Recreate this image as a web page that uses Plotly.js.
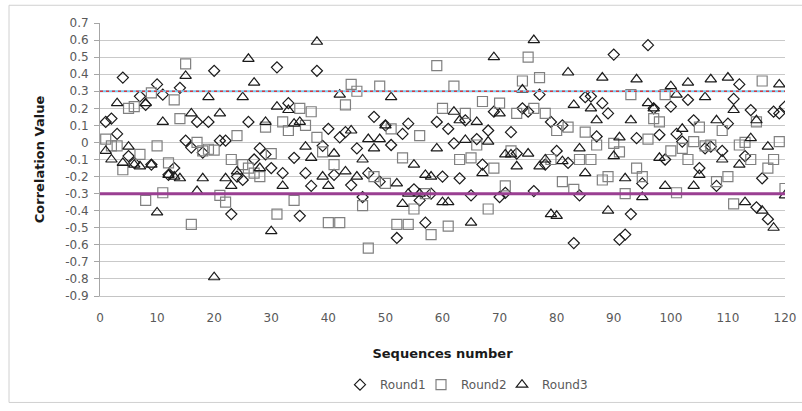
<!DOCTYPE html>
<html><head><meta charset="utf-8">
<script src="https://cdn.plot.ly/plotly-3.0.1.min.js"></script>
<style>html,body{margin:0;padding:0;background:#fff;}#chart{width:802px;height:411px;}</style>
</head><body><div id="chart"></div>
<script>
const sequenceNumber = [1,2,3,4,5,6,7,8,9,10,11,12,13,14,15,16,17,18,19,20,21,22,23,24,25,26,27,28,29,30,31,32,33,34,35,36,37,38,39,40,41,42,43,44,45,46,47,48,49,50,51,52,53,54,55,56,57,58,59,60,61,62,63,64,65,66,67,68,69,70,71,72,73,74,75,76,77,78,79,80,81,82,83,84,85,86,87,88,89,90,91,92,93,94,95,96,97,98,99,100,101,102,103,104,105,106,107,108,109,110,111,112,113,114,115,116,117,118,119,120];

const round1 = [0.12,0.14,0.05,0.38,-0.08,-0.12,0.27,0.22,-0.13,0.34,
0.28,-0.19,-0.15,0.32,0.01,-0.03,0.12,-0.06,0.12,0.42,
0.01,0.01,-0.42,-0.2,-0.22,0.12,-0.10,-0.035,-0.07,-0.15,
0.44,-0.18,0.23,-0.09,-0.43,-0.18,-0.255,0.42,-0.02,0.08,
-0.19,0.03,0.06,-0.25,-0.035,-0.32,-0.18,0.15,-0.23,0.1,
-0.015,-0.56,0.05,0.11,-0.275,-0.34,-0.47,-0.30,0.12,-0.2,
0.08,-0.005,-0.21,0.13,-0.31,0.02,-0.13,0.07,0.18,-0.32,
-0.295,0.06,-0.065,0.2,0.18,-0.285,0.28,-0.13,0.12,-0.05,
0.1,-0.12,-0.59,-0.31,0.265,0.27,0.035,0.23,0.17,0.515,
-0.57,-0.54,-0.42,0.025,-0.24,0.57,0.2,0.045,-0.1,0.21,
0.05,0.005,0.25,0.13,-0.15,-0.035,-0.025,-0.255,-0.05,0.11,
0.255,0.34,-0.08,0.19,-0.38,-0.21,-0.45,0.18,0.17,0.21];

const round2 = [0.02,-0.02,-0.02,-0.16,0.2,0.21,-0.07,-0.34,0.29,-0.02,
-0.295,-0.12,0.25,0.14,0.46,-0.48,0.0,-0.05,-0.04,-0.045,
-0.31,-0.35,-0.1,0.04,-0.13,-0.15,-0.18,-0.2,0.09,-0.065,
-0.42,0.12,0.07,-0.34,0.2,0.1,0.18,0.03,-0.055,-0.47,
-0.13,-0.47,0.22,0.34,0.3,-0.37,-0.62,-0.2,0.33,-0.24,
0.08,-0.48,-0.09,-0.48,-0.39,0.04,-0.3,-0.54,0.45,0.2,
-0.49,0.33,-0.1,0.17,-0.09,-0.015,0.24,-0.39,-0.15,0.23,
-0.255,-0.05,0.17,0.36,0.5,0.2,0.38,0.17,-0.1,0.07,
-0.23,0.09,-0.275,-0.1,0.06,-0.1,-0.015,-0.22,-0.2,-0.005,
-0.055,-0.3,0.28,-0.15,-0.2,0.02,0.14,0.12,0.28,-0.05,
-0.295,-0.035,-0.1,0.005,0.09,-0.02,-0.015,-0.23,0.07,-0.2,
-0.36,-0.015,0.0,-0.1,0.12,0.36,-0.15,-0.1,0.005,-0.27];

const round3 = [-0.05,-0.1,0.23,-0.12,-0.025,-0.13,-0.14,0.23,-0.13,-0.41,
0.12,-0.19,-0.2,-0.21,0.39,0.17,-0.285,-0.21,0.265,-0.79,
0.17,-0.21,-0.255,-0.17,0.265,0.49,0.35,-0.15,0.12,-0.52,
0.21,-0.255,0.19,0.11,0.12,-0.025,-0.09,0.59,-0.2,-0.255,
-0.065,0.28,-0.17,0.07,-0.2,-0.1,0.02,-0.035,0.02,0.1,
0.265,-0.24,-0.36,-0.3,-0.13,-0.3,-0.19,-0.2,-0.035,-0.35,
-0.35,0.18,0.13,0.015,-0.47,0.12,-0.18,0.005,0.5,0.17,
-0.07,-0.07,-0.14,0.31,-0.065,0.6,-0.14,-0.1,-0.42,-0.43,
-0.11,0.41,0.22,-0.035,-0.18,0.2,0.13,0.38,-0.4,-0.08,
0.03,-0.21,0.13,0.37,-0.32,0.23,0.2,-0.09,-0.255,0.33,
0.28,0.08,0.35,-0.255,-0.19,0.265,0.37,0.13,-0.1,0.38,
0.19,-0.13,-0.35,0.025,0.13,-0.4,-0.025,-0.5,0.34,-0.31];

const seriesNames = ['Round1','Round2','Round3'];
const xTickVals = [0,10,20,30,40,50,60,70,80,90,100,110,120];
const yTickVals = [0.7,0.6,0.5,0.4,0.3,0.2,0.1,0,-0.1,-0.2,-0.3,-0.4,-0.5,-0.6,-0.7,-0.8,-0.9];
const yTickText = ['0.7','0.6','0.5','0.4','0.3','0.2','0.1','0','-0.1','-0.2','-0.3','-0.4','-0.5','-0.6','-0.7','-0.8','-0.9'];
const upperThreshold = 0.3;
const lowerThreshold = -0.3;

const FONT = 'DejaVu Sans, Open Sans, sans-serif';
const NB = '\u00A0';
const traces = [
  {x: sequenceNumber, y: round1, name: seriesNames[0], type: 'scatter', mode: 'markers', legendwidth: 36,
   marker: {symbol: 'diamond-open', size: 8.5, color: '#1a1a1a', line: {width: 1.2, color: '#1a1a1a'}}},
  {x: sequenceNumber, y: round2, name: seriesNames[1], type: 'scatter', mode: 'markers', legendwidth: 36,
   marker: {symbol: 'square-open', size: 10, color: '#808080', line: {width: 1.2, color: '#808080'}}},
  {x: sequenceNumber, y: round3, name: seriesNames[2], type: 'scatter', mode: 'markers', legendwidth: 60,
   marker: {symbol: 'triangle-up-open', size: 10, color: '#1a1a1a', line: {width: 1.2, color: '#1a1a1a'}}}
];

const pl = 100, pr = 785, pt = 23, pb = 300;
const px = v => (v - pl) / (pr - pl);
const py = v => (pb - v) / (pb - pt);

const layout = {
  width: 802, height: 411,
  margin: {l: pl, r: 802 - pr, t: pt, b: 411 - pb, pad: 0},
  paper_bgcolor: '#ffffff', plot_bgcolor: '#ffffff',
  font: {family: FONT, color: '#595959', size: 12},
  showlegend: true,
  legend: {orientation: 'h', x: px(340), xanchor: 'left', y: py(390), yanchor: 'middle',
           font: {family: FONT, size: 12, color: '#595959'}, itemwidth: 30,
           tracegroupgap: 0, bgcolor: 'rgba(0,0,0,0)'},
  xaxis: {range: [0, 120], tickvals: xTickVals, showgrid: false, zeroline: false,
          showline: true, linecolor: '#c4c4c4', linewidth: 1, ticks: '', ticklabelstandoff: 11,
          tickfont: {family: FONT, size: 12, color: '#595959'},
          title: {text: NB.repeat(7) + 'Sequences number', standoff: 24,
                  font: {family: FONT, size: 13, color: '#1a1a1a', weight: 'bold'}},
          fixedrange: true},
  yaxis: {range: [-0.9, 0.7], tickvals: yTickVals, ticktext: yTickText, showgrid: true,
          gridcolor: '#c9c9c9', gridwidth: 1, zeroline: false, showline: true, linecolor: '#a6a6a6',
          ticks: 'outside', ticklen: 5, tickcolor: '#a6a6a6', ticklabelstandoff: 3,
          tickfont: {family: FONT, size: 12, color: '#595959'},
          title: {text: 'Correlation Value' + NB.repeat(9), standoff: 17,
                  font: {family: FONT, size: 13, color: '#1a1a1a', weight: 'bold'}},
          fixedrange: true},
  shapes: [
    {type: 'line', xref: 'x', yref: 'y', x0: 0, x1: 120, y0: upperThreshold, y1: upperThreshold,
     line: {color: '#79c7ec', width: 2.2}, layer: 'above'},
    {type: 'line', xref: 'x', yref: 'y', x0: 0, x1: 120, y0: upperThreshold, y1: upperThreshold,
     line: {color: '#d8383f', width: 1.4, dash: 'dot'}, layer: 'above'},
    {type: 'line', xref: 'x', yref: 'y', x0: 0, x1: 120, y0: lowerThreshold, y1: lowerThreshold,
     line: {color: '#9a3f92', width: 3}, layer: 'above'},
    {type: 'rect', xref: 'paper', yref: 'paper', x0: px(9), x1: px(840), y0: py(408), y1: py(5),
     line: {color: '#d0d0d0', width: 1}, fillcolor: 'rgba(0,0,0,0)', layer: 'below'}
  ]
};

Plotly.newPlot('chart', traces, layout, {displayModeBar: false, staticPlot: true});
</script>
</body></html>
